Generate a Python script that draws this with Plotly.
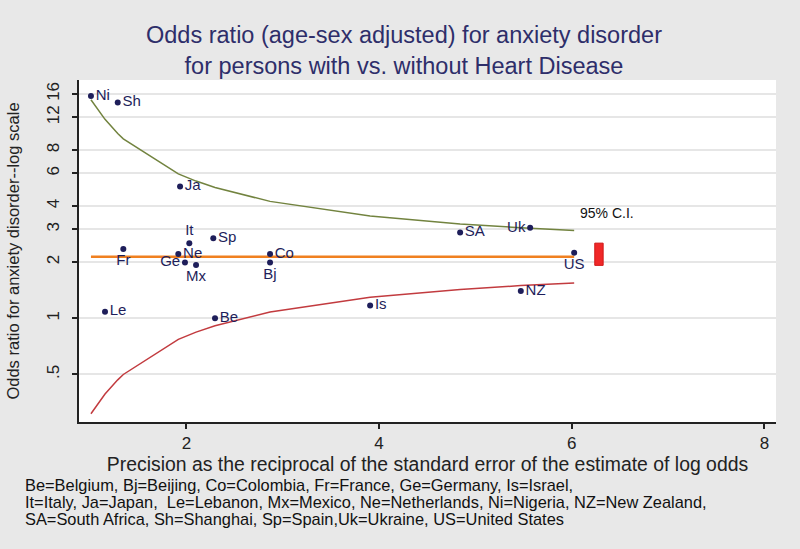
import plotly.graph_objects as go

# ---- data ----
countries = ["Ni", "Sh", "Ja", "It", "Sp", "Fr", "Ne", "Ge", "Mx", "Co", "Bj",
             "Le", "Be", "SA", "Uk", "US", "NZ", "Is"]
precision = [1.009, 1.287, 1.934, 2.030, 2.279, 1.345, 1.916, 1.985, 2.100, 2.868, 2.868,
             1.155, 2.297, 4.841, 5.568, 6.025, 5.471, 3.907]
odds_ratio = [15.6, 14.4, 5.09, 2.53, 2.69, 2.35, 2.21, 1.99, 1.93, 2.21, 1.99,
              1.085, 1.00, 2.89, 3.06, 2.25, 1.40, 1.17]
label_pos = ["middle right", "middle right", "middle right", "top center", "middle right",
             "bottom center", "middle right", "middle left", "bottom center", "middle right",
             "bottom center", "middle right", "middle right", "middle right", "middle left",
             "bottom center", "middle right", "middle right"]

ci_x = [1.009, 1.155, 1.287, 1.345, 1.916, 1.985, 2.100, 2.297, 2.868, 3.907, 4.841, 5.471, 5.568, 6.025]
ci_upper = [14.9, 11.69, 9.82, 9.19, 5.96, 5.75, 5.45, 5.03, 4.24, 3.54, 3.21, 3.06, 3.04, 2.96]
ci_lower = [0.307, 0.392, 0.467, 0.499, 0.770, 0.798, 0.842, 0.912, 1.081, 1.296, 1.428, 1.497, 1.506, 1.547]

pooled_x = [1.009, 6.025]
pooled_or = [2.14, 2.14]

y_ticks = [0.5, 1, 2, 3, 4, 6, 8, 12, 16]
y_tick_text = [".5", "1", "2", "3", "4", "6", "8", "12", "16"]
x_ticks = [2, 4, 6, 8]

title_text = ("Odds ratio (age-sex adjusted) for anxiety disorder<br>"
              "for persons with vs. without Heart Disease")
x_title = "Precision as the reciprocal of the standard error of the estimate of log odds"
y_title = "Odds ratio for anxiety disorder--log scale"
footnote_lines = [
    "Be=Belgium, Bj=Beijing, Co=Colombia, Fr=France, Ge=Germany, Is=Israel,",
    "It=Italy, Ja=Japan,  Le=Lebanon, Mx=Mexico, Ne=Netherlands, Ni=Nigeria, NZ=New Zealand,",
    "SA=South Africa, Sh=Shanghai, Sp=Spain,Uk=Ukraine, US=United States",
]

FONT = "Liberation Sans, Arial, sans-serif"
NAVY = "#1e1e5a"

fig = go.Figure()
fig.add_trace(go.Scatter(x=ci_x, y=ci_upper, mode="lines",
                         line=dict(color="#72833f", width=1.5), hoverinfo="skip"))
fig.add_trace(go.Scatter(x=ci_x, y=ci_lower, mode="lines",
                         line=dict(color="#c23b3f", width=1.5), hoverinfo="skip"))
fig.add_trace(go.Scatter(x=pooled_x, y=pooled_or, mode="lines",
                         line=dict(color="#f08020", width=2.5), hoverinfo="skip"))
fig.add_trace(go.Scatter(x=precision, y=odds_ratio, mode="markers+text",
                         text=countries, textposition=label_pos,
                         textfont=dict(family=FONT, size=15, color=NAVY),
                         marker=dict(color=NAVY, size=6, symbol="circle")))

fig.add_annotation(text="95% C.I.", xref="paper", yref="paper", x=0.716, y=0.61,
                   xanchor="left", yanchor="middle", showarrow=False,
                   font=dict(family=FONT, size=14, color="#111"))
fig.add_shape(type="rect", xref="paper", yref="paper", x0=0.740, x1=0.752, y0=0.458, y1=0.523,
              fillcolor="#f02828", line=dict(color="#d01818", width=1))

# footnote lines (plot area spans y 80..422 px -> 342 px tall)
for i, line in enumerate(footnote_lines):
    ypx = 485 + 17 * i
    fig.add_annotation(text=line, xref="paper", yref="paper",
                       x=(23 - 79) / 697, y=(422 - ypx) / 342,
                       xanchor="left", yanchor="middle", showarrow=False, align="left",
                       font=dict(family=FONT, size=16.4, color="#111"))

fig.update_layout(
    width=800, height=549,
    margin=dict(l=79, r=24, t=80, b=127, autoexpand=False),
    paper_bgcolor="#e8e8e8", plot_bgcolor="#ffffff",
    showlegend=False,
    title=dict(text=title_text, x=0.505, xanchor="center", y=0.921, yanchor="top",
               font=dict(family=FONT, size=23.5, color="#2e2e6a"), automargin=False),
    xaxis=dict(range=[0.885, 8.12], tickvals=x_ticks, showgrid=False, zeroline=False,
               showline=True, linecolor="#222", linewidth=2, ticks="outside", ticklen=5,
               tickcolor="#222", tickwidth=1.5, automargin=False,
               tickfont=dict(family=FONT, size=17, color="#222"),
               title=dict(text=x_title, standoff=0,
                          font=dict(family=FONT, size=19.4, color="#222"))),
    yaxis=dict(type="log", range=[-0.557, 1.279], tickvals=y_ticks, ticktext=y_tick_text,
               tickangle=-90, showgrid=True, gridcolor="#e6e6e6", gridwidth=1.5,
               zeroline=False, showline=True, linecolor="#222", linewidth=2,
               ticks="outside", ticklen=5, tickcolor="#222", tickwidth=1.5, automargin=False,
               ticklabelstandoff=6,
               tickfont=dict(family=FONT, size=17, color="#222"),
               title=dict(text=y_title, standoff=20,
                          font=dict(family=FONT, size=16.5, color="#222"))),
)

fig.write_html("out.html", config={"displayModeBar": False},
               post_script="document.body.style.margin='0';document.body.style.background='#e8e8e8';")
